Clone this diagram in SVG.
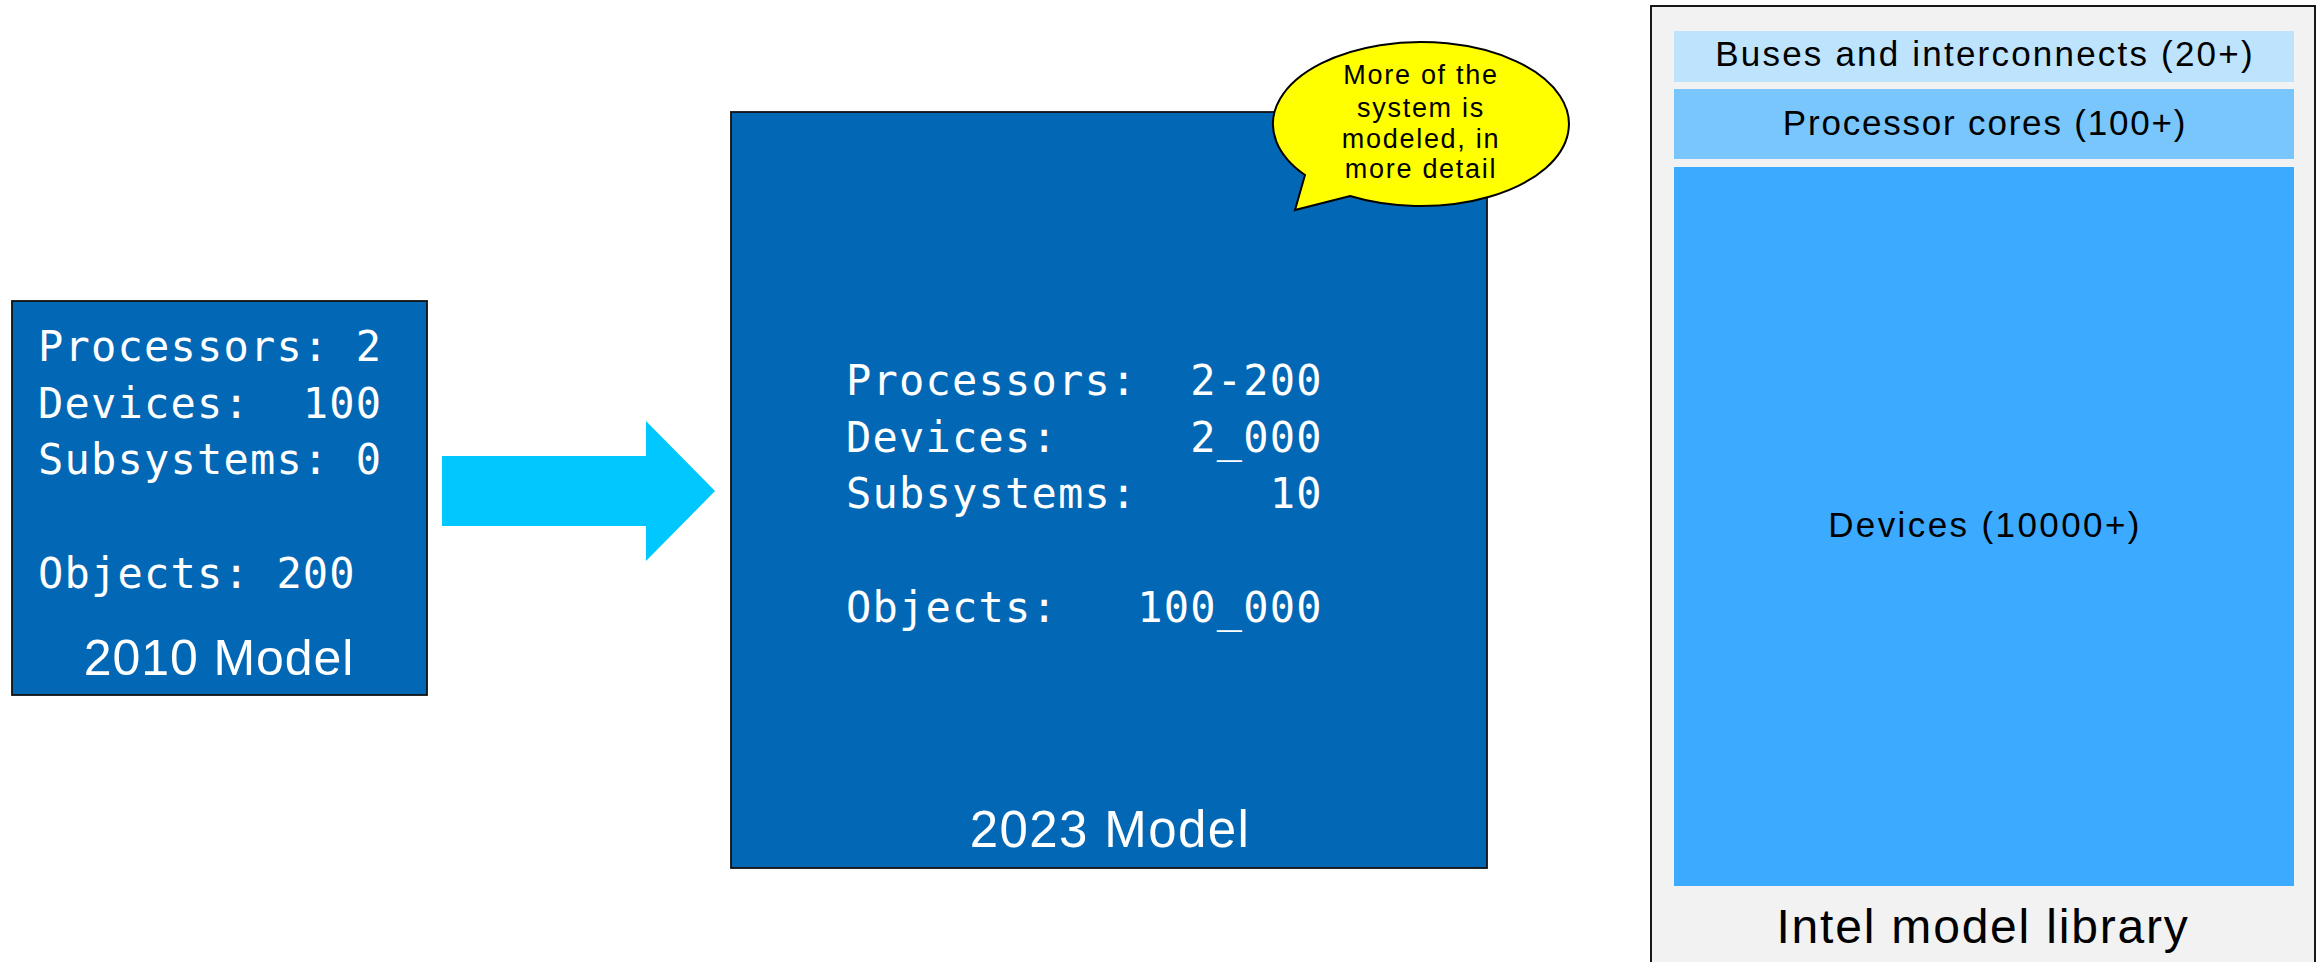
<svg xmlns="http://www.w3.org/2000/svg" width="2320" height="962" viewBox="0 0 2320 962">
  <style>
    .model { fill: #0268B5; stroke: #111; stroke-width: 1.8; }
    .mono { font-family: "DejaVu Sans Mono", "Liberation Mono", monospace; font-size: 42px; letter-spacing: 1.2px; fill: #fff; white-space: pre; }
    .title { font-family: "Liberation Sans", Arial, sans-serif; fill: #fff; text-anchor: middle; }
    .lib { font-family: "Liberation Sans", Arial, sans-serif; fill: #000; text-anchor: middle; }
    .callout-text { font-family: "Liberation Sans", Arial, sans-serif; font-size: 27px; letter-spacing: 1.7px; fill: #000; text-anchor: middle; }
  </style>

  <!-- 2010 model -->
  <g id="node-2010">
    <rect class="model" x="12" y="301" width="415" height="394"/>
    <text class="mono" xml:space="preserve" x="38" y="361">Processors: 2</text>
    <text class="mono" xml:space="preserve" x="38" y="418">Devices:  100</text>
    <text class="mono" xml:space="preserve" x="38" y="474">Subsystems: 0</text>
    <text class="mono" xml:space="preserve" x="38" y="588">Objects: 200</text>
    <text class="title" x="219" y="675" font-size="50" letter-spacing="0.9">2010 Model</text>
  </g>

  <!-- progression arrow -->
  <g id="connectors">
    <polygon points="442,456 646,456 646,421 715,491 646,561 646,526 442,526" fill="#00C7FD"/>
  </g>

  <!-- 2023 model -->
  <g id="node-2023">
    <rect class="model" x="731" y="112" width="756" height="756"/>
    <text class="mono" xml:space="preserve" x="846" y="395">Processors:  2-200</text>
    <text class="mono" xml:space="preserve" x="846" y="452">Devices:     2_000</text>
    <text class="mono" xml:space="preserve" x="846" y="508">Subsystems:     10</text>
    <text class="mono" xml:space="preserve" x="846" y="622">Objects:   100_000</text>
    <text class="title" x="1110" y="847" font-size="51" letter-spacing="1.4">2023 Model</text>
  </g>

  <!-- speech bubble -->
  <g id="callout">
    <path d="M 1350,196 A 148 82 0 1 0 1305,175 L 1295,210 Z" fill="#FFFF00" stroke="#000" stroke-width="2"/>
    <text class="callout-text" x="1421" y="84">More of the</text>
    <text class="callout-text" x="1421" y="117">system is</text>
    <text class="callout-text" x="1421" y="148">modeled, in</text>
    <text class="callout-text" x="1421" y="178">more detail</text>
  </g>

  <!-- model library panel -->
  <g id="library">
    <rect x="1651" y="6" width="664" height="966" fill="#F2F2F2" stroke="#000" stroke-width="1.8"/>
    <g id="lib-buses">
      <rect x="1674" y="31" width="620" height="51" fill="#BEE3FC"/>
      <text class="lib" x="1985" y="66" font-size="35" letter-spacing="2.2">Buses and interconnects (20+)</text>
    </g>
    <g id="lib-cores">
      <rect x="1674" y="89" width="620" height="70" fill="#79C6FD"/>
      <text class="lib" x="1985" y="135" font-size="35" letter-spacing="1.8">Processor cores (100+)</text>
    </g>
    <g id="lib-devices">
      <rect x="1674" y="167" width="620" height="719" fill="#3CAAFF"/>
      <text class="lib" x="1985" y="537" font-size="35" letter-spacing="2.4">Devices (10000+)</text>
    </g>
    <text class="lib" x="1983" y="943" font-size="48" letter-spacing="1.8">Intel model library</text>
  </g>
</svg>
